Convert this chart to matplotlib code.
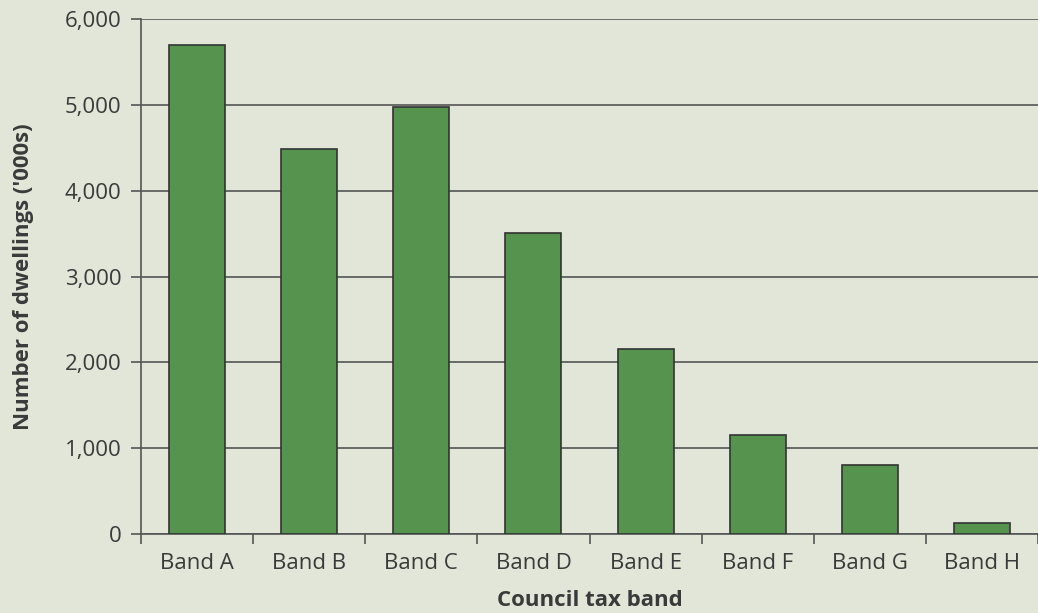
import numpy as np
import matplotlib
matplotlib.use("Agg")
import matplotlib.pyplot as plt

# Data
bands = ["Band A", "Band B", "Band C", "Band D", "Band E", "Band F", "Band G", "Band H"]
dwellings = [5700, 4490, 4980, 3510, 2160, 1150, 800, 125]
yticks = [0, 1000, 2000, 3000, 4000, 5000, 6000]

bg = "#e1e6d8"
bar_col = "#55934f"
txt = "#3a3a3a"
line_col = "#555555"

plt.rcParams['font.family'] = ['Open Sans', 'DejaVu Sans']

fig = plt.figure(figsize=(10.38, 6.13), dpi=100, facecolor=bg)
ax = fig.add_axes([141/1038, 1 - 534/613, 1 - 141/1038, (534 - 19)/613])
ax.set_facecolor(bg)

x = np.arange(len(bands))
ax.bar(x, dwellings, width=0.5, color=bar_col, edgecolor="#333333", linewidth=1.2, zorder=3)

ax.set_xlim(-0.5, len(bands) - 0.5)
ax.set_ylim(0, 6000)
ax.set_yticks(yticks)
ax.set_yticklabels([f"{v:,}" for v in yticks])
ax.yaxis.grid(True, color=line_col, linewidth=1.2, zorder=0)

# category labels centred, tick marks at boundaries
ax.set_xticks(x)
ax.set_xticklabels(bands)
ax.set_xticks(np.arange(len(bands) + 1) - 0.5, minor=True)
ax.tick_params(axis='x', which='major', length=0, pad=14)
ax.tick_params(axis='x', which='minor', length=7, width=1.2, color=line_col)
ax.tick_params(axis='y', length=7, width=1.2, color=line_col, pad=7)
ax.tick_params(labelsize=16, labelcolor=txt)

for s in ["top", "right"]:
    ax.spines[s].set_visible(False)
for s in ["left", "bottom"]:
    ax.spines[s].set_color(line_col)
    ax.spines[s].set_linewidth(1.2)

ax.set_xlabel("Council tax band", fontsize=16, fontweight="bold", color=txt, labelpad=11)
ax.set_ylabel("Number of dwellings ('000s)", fontsize=16, fontweight="bold", color=txt, labelpad=22)

fig.savefig("out.png", dpi=100, facecolor=bg)
